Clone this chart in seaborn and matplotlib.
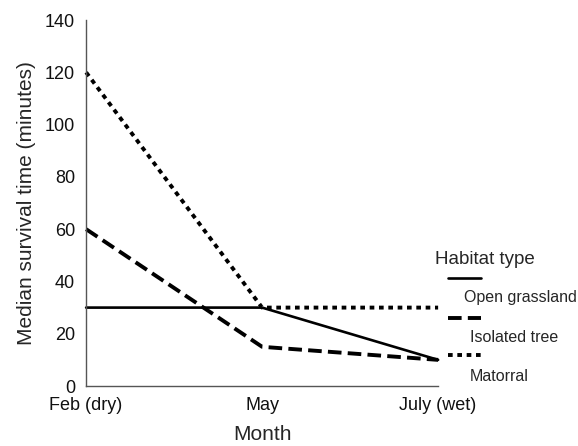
import matplotlib
matplotlib.use("Agg")
import matplotlib.pyplot as plt
import seaborn as sns
import pandas as pd
from matplotlib.lines import Line2D

months = ["Feb (dry)", "May", "July (wet)"]
open_grassland = [30, 30, 10]
isolated_tree = [60, 15, 10]
matorral = [120, 30, 30]
habitats = ["Open grassland", "Isolated tree", "Matorral"]
yticks = [0, 20, 40, 60, 80, 100, 120, 140]

rows = []
for h, vals in zip(habitats, [open_grassland, isolated_tree, matorral]):
    for i, (m, v) in enumerate(zip(months, vals)):
        rows.append({"x": i, "Month": m, "value": v, "Habitat": h})
df = pd.DataFrame(rows)

sns.set_style("white")
plt.rcParams["font.family"] = ["Liberation Sans", "DejaVu Sans"]

fig = plt.figure(figsize=(5.78, 4.46), dpi=100)
ax = fig.add_axes([0.149, 0.1345, 0.609, 0.8205])

dashes = {"Open grassland": "", "Isolated tree": (3.5, 1.6), "Matorral": (1.2, 1.2)}
widths = {"Open grassland": 1.9, "Isolated tree": 2.8, "Matorral": 2.8}
for h in habitats:
    sub = df[df["Habitat"] == h]
    sns.lineplot(data=sub, x="x", y="value", ax=ax, color="black",
                 linewidth=widths[h], legend=False, clip_on=False)
    line = ax.lines[-1]
    if dashes[h] != "":
        line.set_dashes(dashes[h])
    line.set_dash_capstyle("butt")

ax.set_xlim(0, 2)
ax.set_ylim(0, 140)
ax.set_xticks(range(len(months)))
ax.set_xticklabels(months, fontsize=13)
ax.set_yticks(yticks)
ax.set_yticklabels([str(t) for t in yticks], fontsize=13)
ax.set_xlabel("Month", fontsize=15, labelpad=8)
ax.set_ylabel("Median survival time (minutes)", fontsize=15, labelpad=6)
for s in ["top", "right"]:
    ax.spines[s].set_visible(False)
for s in ["left", "bottom"]:
    ax.spines[s].set_color("#555555")
    ax.spines[s].set_linewidth(1.0)
ax.tick_params(axis="both", direction="out", length=3, width=2, color="black",
               pad=5, labelcolor="#111111")

# custom legend
fig.text(0.752, 0.418, "Habitat type", fontsize=13.5, ha="left", va="center")
legend_y = [0.377, 0.288, 0.203]
label_pos = [(0.802, 0.332), (0.813, 0.244), (0.813, 0.155)]
for h, y, (lx, ly) in zip(habitats, legend_y, label_pos):
    l = Line2D([0.775, 0.832], [y, y], transform=fig.transFigure, color="black",
               linewidth=widths[h])
    if dashes[h] != "":
        l.set_dashes(dashes[h])
    l.set_dash_capstyle("butt")
    fig.add_artist(l)
    fig.text(lx, ly, h, fontsize=11.5, ha="left", va="center")

fig.savefig("out.png", dpi=100)
